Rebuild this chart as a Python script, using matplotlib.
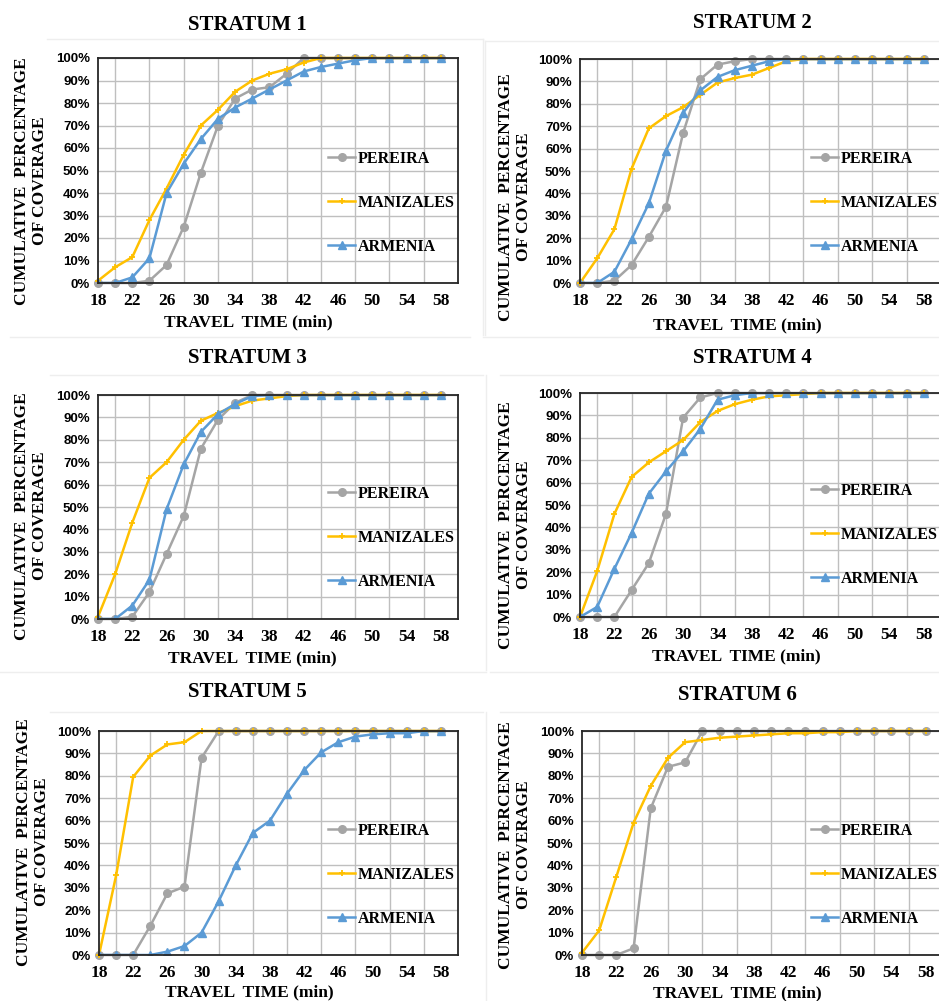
import numpy as np
import matplotlib
matplotlib.use("Agg")
import matplotlib.pyplot as plt
from matplotlib.lines import Line2D

W, H = 939, 1001

# ---------------- data ----------------
time_min = [18, 20, 22, 24, 26, 28, 30, 32, 34, 36, 38, 40, 42, 44, 46, 48, 50, 52, 54, 56, 58]
x_ticks = [18, 22, 26, 30, 34, 38, 42, 46, 50, 54, 58]
series_names = ["PEREIRA", "MANIZALES", "ARMENIA"]
nan = float("nan")

s1_pereira   = [0, 0, 0, 1, 8, 25, 49, 70, 82, 86, 87, 93, 100, 100, 100, 100, 100, 100, 100, 100, 100]
s1_manizales = [1, 7, 11.5, 28, 42, 57, 70, 77, 85, 90, 93, 95, 98, 100, 100, 100, 100, 100, 100, 100, 100]
s1_armenia   = [0, 0, 2.5, 11, 40, 53, 64, 73, 78, 82, 86, 90, 94, 96, 97.5, 99, 100, 100, 100, 100, 100]

s2_pereira   = [0, 0, 1, 8, 20.5, 34, 67, 91, 97.5, 99, 100, 100, 100, 100, 100, 100, 100, 100, 100, 100, 100]
s2_manizales = [0, 11, 24, 51, 69, 74.5, 78.5, 84, 89.5, 91.5, 93, 96, 99, 100, 100, 100, 100, 100, 100, 100, 100]
s2_armenia   = [0, 0, 5, 19.5, 35.5, 59, 76, 86, 92, 95, 97, 99, 100, 100, 100, 100, 100, 100, 100, 100, 100]

s3_pereira   = [0, 0, 1, 12, 29, 46, 76, 89, 96.5, 100, 100, 100, 100, 100, 100, 100, 100, 100, 100, 100, 100]
s3_manizales = [1, 20, 43, 63, 70, 80, 88.5, 92, 95, 97.5, 98.5, 99.5, 100, 100, 100, 100, 100, 100, 100, 100, 100]
s3_armenia   = [0, 0, 6, 17.5, 49, 69, 83.5, 91.5, 96, 99.5, 100, 100, 100, 100, 100, 100, 100, 100, 100, 100, 100]

s4_pereira   = [0, 0, 0, 12, 24, 46, 89, 98, 100, 100, 100, 100, 100, 100, 100, 100, 100, 100, 100, 100, 100]
s4_manizales = [0, 20.5, 46, 62.5, 69, 74, 79, 87, 92, 95, 97, 98.5, 99, 99.5, 100, 100, 100, 100, 100, 100, 100]
s4_armenia   = [0, 4.5, 21.5, 37.5, 55, 65, 74, 84, 97, 99, 100, 100, 100, 100, 100, 100, 100, 100, 100, 100, 100]

s5_pereira   = [0, 0, 0, 13, 27.5, 30.5, 88, 100, 100, 100, 100, 100, 100, 100, 100, 100, 100, 100, 100, 100, 100]
s5_manizales = [0, 35.5, 79.5, 89, 94, 95, 100, 100, 100, 100, 100, 100, 100, 100, 100, 100, 100, 100, 100, 100, 100]
s5_armenia   = [0, 0, 0, 0, 1.5, 4, 10, 24, 40, 54.5, 60, 72, 82.5, 90.5, 95, 97.5, 98.5, 99, 99, 100, 100]

s6_pereira   = [0, 0, 0, 3, 65.5, 84, 86, 100, 100, 100, 100, 100, 100, 100, 100, 100, 100, 100, 100, 100, 100]
s6_manizales = [1, 11, 35, 59, 75.5, 88, 95, 96, 97, 97.5, 98, 98.5, 99, 99, 99.5, 99.5, 100, 100, 100, 100, 100]
s6_armenia   = [nan] * 21

strata = [
    ("STRATUM 1", s1_pereira, s1_manizales, s1_armenia),
    ("STRATUM 2", s2_pereira, s2_manizales, s2_armenia),
    ("STRATUM 3", s3_pereira, s3_manizales, s3_armenia),
    ("STRATUM 4", s4_pereira, s4_manizales, s4_armenia),
    ("STRATUM 5", s5_pereira, s5_manizales, s5_armenia),
    ("STRATUM 6", s6_pereira, s6_manizales, s6_armenia),
]

# ---------------- layout (pixels) ----------------
boxes = [(98, 458, 58, 283), (580, 941, 59, 283),
         (98, 458, 395, 619), (580, 941, 393, 617),
         (99, 458, 731, 955), (582, 943, 731, 955)]
title_pos = [(247, 25), (752, 23), (247, 358), (752, 358), (247, 692), (737, 695)]
ylab_pos = [(31, 181), (515, 197), (31, 516), (515, 525), (33, 842), (515, 845)]
xlab_pos = [(248, 322), (737, 325), (252, 658), (736, 656), (249, 992), (737, 993)]
leg_pos = [(328, 151), (811, 151), (328, 486), (811, 483), (328, 823), (811, 823)]

# faint chart-area borders (x0, y0, x1, y1)
frame_lines = [(47, 39, 483, 39), (483, 39, 483, 335), (10, 337, 470, 337),
               (485, 41, 939, 41), (485, 41, 485, 335), (483, 337, 939, 337),
               (50, 375, 483, 375), (486, 375, 486, 670), (0, 672, 486, 672),
               (500, 375, 939, 375), (490, 672, 939, 672),
               (50, 712, 483, 712), (486, 712, 486, 1001), (500, 712, 939, 712)]

colors = {"PEREIRA": "#A5A5A5", "MANIZALES": "#FFC000", "ARMENIA": "#5B9BD5"}
markers = {"PEREIRA": "o", "MANIZALES": "+", "ARMENIA": "^"}
msizes = {"PEREIRA": 5.5, "MANIZALES": 4.5, "ARMENIA": 5.5}

serif = ["Liberation Serif", "DejaVu Serif"]
sans = ["Liberation Sans", "DejaVu Sans"]

fig = plt.figure(figsize=(W / 100, H / 100), dpi=100)
fig.patch.set_facecolor("white")

def fx(x):
    return x / W

def fy(y):
    return 1 - y / H

for (x0, y0, x1, y1) in frame_lines:
    fig.add_artist(Line2D([fx(x0), fx(x1)], [fy(y0), fy(y1)],
                          transform=fig.transFigure, color="#EEEEEE", lw=1.0))

for i, (title, per, man, arm) in enumerate(strata):
    l, r, t, b = boxes[i]
    ax = fig.add_axes([fx(l), fy(b), (r - l) / W, (b - t) / H])
    ax.set_xlim(18, 60)
    ax.set_ylim(0, 100)
    ax.set_xticks(x_ticks)
    ax.set_xticks(time_min, minor=True)
    ax.set_yticks(range(0, 101, 10))
    ax.set_yticklabels([f"{v}%" for v in range(0, 101, 10)],
                       fontfamily=sans, fontweight="bold", fontsize=9.5)
    ax.set_xticklabels([str(v) for v in x_ticks],
                       fontfamily=serif, fontweight="bold", fontsize=12.5)
    ax.tick_params(axis="both", which="both", length=0)
    ax.tick_params(axis="x", pad=7)
    ax.tick_params(axis="y", pad=6)
    ax.grid(True, which="minor", axis="x", color="#BFBFBF", lw=1.0)
    ax.grid(True, which="major", axis="y", color="#BFBFBF", lw=1.0)
    ax.set_axisbelow(True)
    for sp in ax.spines.values():
        sp.set_color("#262626")
        sp.set_linewidth(1.3)

    for name, vals in zip(series_names, [per, man, arm]):
        ax.plot(time_min, vals, color=colors[name], lw=1.8,
                marker=markers[name], ms=msizes[name],
                mew=1.3 if name == "MANIZALES" else 1.0,
                label=name, clip_on=False if name != "ARMENIA" else True)

    lx, ly = leg_pos[i]
    ax.legend(loc="upper left", bbox_to_anchor=(fx(lx), fy(ly)),
              bbox_transform=fig.transFigure, frameon=False,
              prop={"family": serif, "weight": "bold", "size": 11.5},
              handlelength=1.7, handletextpad=0.15, labelspacing=1.75,
              borderpad=0, borderaxespad=0)

    tx, ty = title_pos[i]
    fig.text(fx(tx), fy(ty), title, ha="center", va="center",
             fontfamily=serif, fontweight="bold", fontsize=15)
    yx, yy = ylab_pos[i]
    fig.text(fx(yx), fy(yy), "CUMULATIVE  PERCENTAGE\nOF COVERAGE",
             rotation=90, ha="center", va="center", multialignment="center",
             fontfamily=serif, fontweight="bold", fontsize=12.5, linespacing=1.15)
    xx, xy = xlab_pos[i]
    fig.text(fx(xx), fy(xy), "TRAVEL  TIME (min)", ha="center", va="center",
             fontfamily=serif, fontweight="bold", fontsize=12.5)

fig.savefig("out.png", dpi=100, facecolor="white")
